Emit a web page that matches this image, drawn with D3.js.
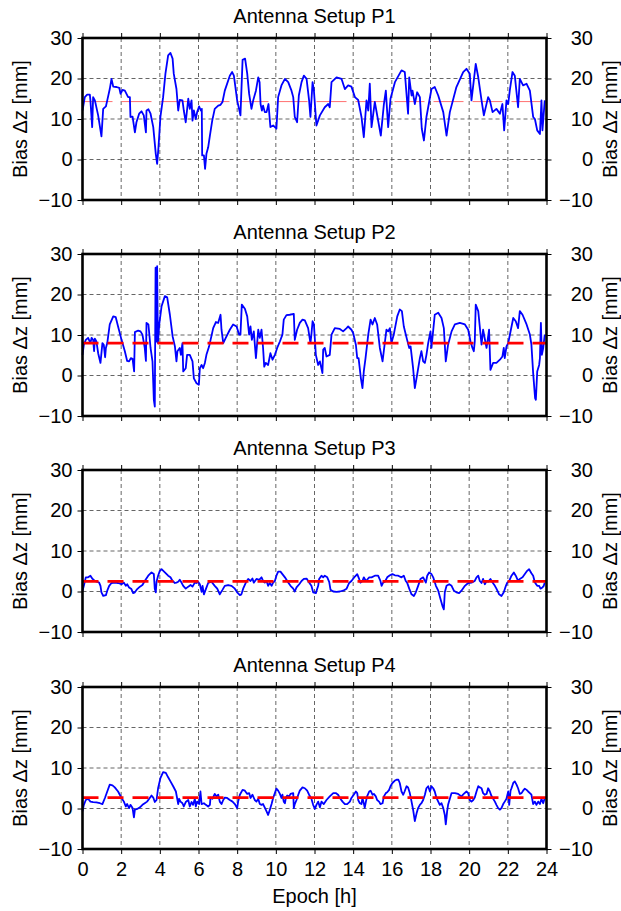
<!DOCTYPE html>
<html><head><meta charset="utf-8">
<script src="https://cdn.jsdelivr.net/npm/d3@7"></script>
<style>
body{margin:0;background:#fff}
svg{display:block}
text{font-family:"Liberation Sans",Arial,Helvetica,sans-serif;fill:#000}
</style>
</head><body>
<svg id="c" width="621" height="911"></svg>
<script>
const panelTitles = ["Antenna Setup P1","Antenna Setup P2","Antenna Setup P3","Antenna Setup P4"];
const xTicks = [0,2,4,6,8,10,12,14,16,18,20,22,24];
const yTicks = [-10,0,10,20,30];
const gridY = [0,10,20];
const meanBias = [14.3, 8.0, 2.5, 2.7];
const yLabel = "Bias Δz [mm]";
const xLabel = "Epoch [h]";

// [epoch h, bias mm]
const p1 = [[0,12.1],[0.12,15.4],[0.24,16.0],[0.38,16.0],[0.41,14.6],[0.50,8.0],[0.55,15.4],[0.64,14.6],[0.81,10.9],[0.98,5.7],[1.07,12.5],[1.21,13.1],[1.28,14.6],[1.41,17.4],[1.50,19.9],[1.59,18.0],[1.76,17.9],[1.90,17.7],[1.97,16.2],[2.07,17.2],[2.19,17.0],[2.36,15.4],[2.45,15.4],[2.48,10.5],[2.59,10.6],[2.71,6.7],[2.79,9.2],[2.93,11.3],[3.05,11.9],[3.17,10.9],[3.28,6.7],[3.31,12.1],[3.41,12.4],[3.52,11.3],[3.66,8.0],[3.79,1.4],[3.86,-1.1],[3.93,3.0],[4.03,10.5],[4.17,15.4],[4.29,21.2],[4.43,25.7],[4.55,26.3],[4.66,24.9],[4.72,21.2],[4.86,17.4],[4.95,12.1],[5.03,14.7],[5.17,14.6],[5.24,12.1],[5.34,9.2],[5.47,15.0],[5.55,12.5],[5.64,14.6],[5.69,9.6],[5.76,12.1],[5.86,10.0],[5.93,11.7],[6.03,13.1],[6.12,12.1],[6.17,12.5],[6.19,1.0],[6.28,1.0],[6.34,-2.3],[6.41,1.4],[6.50,3.0],[6.59,5.9],[6.71,9.6],[6.84,12.5],[7.02,13.3],[7.14,13.5],[7.24,14.2],[7.36,17.0],[7.62,20.7],[7.74,21.6],[7.83,20.7],[8.00,14.6],[8.17,10.9],[8.28,24.6],[8.41,24.9],[8.52,21.2],[8.62,16.2],[8.74,12.5],[8.83,14.6],[8.97,17.0],[9.09,20.3],[9.16,19.1],[9.21,13.7],[9.28,12.1],[9.34,13.3],[9.43,11.7],[9.52,11.7],[9.62,13.7],[9.72,8.0],[9.86,8.4],[10.03,7.6],[10.12,15.4],[10.29,18.3],[10.47,19.9],[10.64,19.1],[10.81,17.0],[10.90,15.4],[10.98,10.5],[11.10,9.2],[11.19,15.8],[11.33,19.1],[11.45,20.7],[11.59,19.9],[11.72,14.6],[11.79,10.5],[11.90,19.1],[11.97,17.0],[12.10,8.4],[12.28,10.9],[12.53,12.9],[12.71,13.7],[12.79,12.9],[12.88,19.1],[13.14,20.3],[13.40,19.9],[13.57,17.4],[13.74,18.3],[13.91,18.0],[14.09,15.4],[14.26,14.7],[14.43,10.5],[14.55,5.5],[14.69,14.6],[14.78,12.1],[14.86,18.7],[14.95,8.0],[15.12,14.2],[15.43,5.9],[15.59,13.7],[15.69,17.0],[15.81,8.0],[15.93,15.0],[16.16,19.1],[16.50,22.0],[16.67,21.6],[16.84,11.3],[16.90,20.3],[17.02,15.8],[17.07,17.0],[17.19,13.7],[17.31,16.6],[17.45,15.4],[17.55,7.6],[17.66,4.7],[17.79,10.5],[18.05,17.4],[18.22,17.9],[18.40,15.8],[18.66,11.7],[18.83,5.9],[19.00,11.7],[19.34,17.9],[19.69,21.6],[19.86,22.4],[20.03,21.2],[20.12,14.6],[20.34,23.6],[20.47,20.3],[20.64,14.6],[20.76,10.9],[20.98,15.4],[21.07,14.6],[21.21,11.7],[21.41,12.5],[21.59,11.3],[21.72,13.7],[21.81,7.2],[21.93,14.6],[22.02,13.7],[22.10,17.0],[22.24,21.6],[22.36,20.7],[22.53,12.9],[22.62,19.9],[22.79,18.3],[22.97,18.7],[23.14,17.0],[23.31,10.5],[23.40,10.0],[23.52,7.2],[23.66,6.3],[23.74,14.6],[23.79,7.2],[23.91,14.6]];

const p2 = [[0,5.1],[0.07,7.6],[0.17,8.8],[0.29,9.3],[0.41,8.0],[0.47,9.3],[0.55,8.8],[0.60,6.0],[0.64,9.1],[0.72,8.4],[0.81,5.5],[0.93,3.1],[1.03,8.0],[1.10,7.6],[1.17,4.5],[1.21,6.8],[1.28,8.0],[1.41,12.6],[1.59,14.6],[1.72,14.4],[1.84,12.1],[2.02,8.8],[2.19,6.0],[2.31,3.6],[2.41,3.5],[2.50,4.3],[2.59,4.1],[2.67,1.0],[2.71,10.7],[2.88,11.1],[3.00,10.9],[3.10,10.1],[3.22,6.8],[3.28,3.6],[3.31,13.0],[3.41,12.6],[3.52,6.8],[3.62,3.5],[3.69,-6.0],[3.74,-7.7],[3.78,26.6],[3.83,8.4],[3.86,27.0],[3.90,8.0],[3.97,12.6],[4.09,17.1],[4.26,19.6],[4.38,19.3],[4.52,15.0],[4.66,9.7],[4.78,7.2],[4.86,3.5],[4.91,6.0],[5.03,6.8],[5.09,5.1],[5.17,8.0],[5.21,1.0],[5.34,1.8],[5.41,5.1],[5.55,5.1],[5.69,3.5],[5.76,-0.7],[5.90,-1.9],[6.02,-2.3],[6.07,1.8],[6.16,2.6],[6.24,1.8],[6.33,3.1],[6.41,5.1],[6.55,7.2],[6.76,11.7],[6.90,13.2],[7.02,13.0],[7.14,15.0],[7.19,11.3],[7.28,8.0],[7.41,9.3],[7.62,11.3],[7.79,12.6],[7.97,12.1],[8.10,10.1],[8.17,10.1],[8.24,17.5],[8.40,16.5],[8.52,14.6],[8.62,10.1],[8.69,12.1],[8.76,8.8],[8.86,10.9],[8.97,4.3],[9.00,6.0],[9.09,11.3],[9.17,9.3],[9.26,11.3],[9.34,6.8],[9.40,2.2],[9.48,3.1],[9.60,2.6],[9.72,5.5],[9.83,3.9],[9.95,5.1],[10.07,6.8],[10.21,8.4],[10.34,10.1],[10.41,13.8],[10.55,14.9],[10.72,15.0],[10.93,15.2],[10.98,8.8],[11.10,11.3],[11.24,13.0],[11.38,13.8],[11.50,13.6],[11.67,11.7],[11.79,8.0],[11.84,10.1],[11.90,13.4],[11.97,12.6],[12.07,5.1],[12.19,2.6],[12.28,3.5],[12.41,0.6],[12.45,6.4],[12.53,6.8],[12.62,4.7],[12.79,5.1],[12.88,10.1],[13.05,11.7],[13.31,11.5],[13.48,10.9],[13.66,11.7],[13.74,12.1],[13.91,11.3],[14.00,10.5],[14.14,7.6],[14.21,4.3],[14.28,4.3],[14.40,-0.7],[14.48,-3.1],[14.55,1.0],[14.64,4.3],[14.78,10.1],[14.90,13.8],[15.00,12.6],[15.12,14.2],[15.24,12.6],[15.38,6.8],[15.52,3.5],[15.72,11.3],[15.81,10.9],[15.90,11.7],[15.98,8.0],[16.10,10.1],[16.28,14.6],[16.41,16.3],[16.52,15.9],[16.62,12.1],[16.79,8.8],[16.90,6.8],[16.97,7.2],[17.10,1.8],[17.19,-3.1],[17.31,0.2],[17.45,4.3],[17.53,6.0],[17.62,3.5],[17.71,3.1],[17.79,5.1],[17.88,8.0],[18.00,10.9],[18.05,6.8],[18.22,15.0],[18.40,15.5],[18.57,14.2],[18.69,11.7],[18.79,3.5],[18.91,7.6],[19.09,10.9],[19.26,12.6],[19.52,13.0],[19.78,12.6],[19.95,11.3],[20.07,8.4],[20.17,6.8],[20.24,6.0],[20.29,8.4],[20.34,17.5],[20.47,15.9],[20.64,7.6],[20.72,11.3],[20.90,6.8],[21.03,11.3],[21.10,1.4],[21.24,3.1],[21.41,3.1],[21.59,3.9],[21.72,4.7],[21.79,6.8],[21.84,4.3],[21.93,7.2],[22.02,8.0],[22.28,14.2],[22.41,13.4],[22.53,11.7],[22.62,15.9],[22.76,15.0],[22.97,12.6],[23.14,10.1],[23.22,7.6],[23.31,0.6],[23.41,-5.6],[23.45,-6.0],[23.52,1.0],[23.62,2.6],[23.66,4.3],[23.71,13.0],[23.76,5.1],[23.83,6.8],[23.91,10.1]];

const p3 = [[0,0.2],[0.07,1.4],[0.17,3.5],[0.29,3.5],[0.41,3.9],[0.52,3.1],[0.64,2.6],[0.76,2.4],[0.86,2.2],[0.93,1.4],[0.98,-0.2],[1.07,-1.1],[1.21,-0.9],[1.28,0.2],[1.38,1.4],[1.50,2.1],[1.67,2.2],[1.84,2.1],[2.02,1.8],[2.14,2.2],[2.24,1.4],[2.31,1.8],[2.41,1.0],[2.53,0.6],[2.62,-0.4],[2.71,-0.2],[2.83,0.6],[2.97,1.2],[3.10,1.6],[3.22,2.6],[3.40,3.9],[3.57,4.7],[3.69,4.3],[3.74,0.6],[3.79,-0.2],[3.83,2.4],[3.91,3.9],[4.00,5.1],[4.09,5.5],[4.26,4.7],[4.43,3.9],[4.55,3.5],[4.66,2.6],[4.78,2.1],[4.86,2.2],[4.95,2.4],[5.03,2.9],[5.12,2.2],[5.21,1.4],[5.34,0.7],[5.47,1.2],[5.59,1.6],[5.69,1.2],[5.81,2.2],[5.90,2.1],[5.98,2.4],[6.07,1.8],[6.16,-0.1],[6.21,1.4],[6.28,-0.7],[6.38,0.6],[6.50,2.1],[6.67,2.4],[6.84,1.4],[6.97,0.7],[7.10,-0.7],[7.24,0.4],[7.36,1.4],[7.53,1.6],[7.71,1.4],[7.88,0.7],[8.00,-0.2],[8.14,-0.9],[8.22,-0.7],[8.31,0.7],[8.45,2.2],[8.57,3.1],[8.69,2.6],[8.79,3.2],[8.86,2.2],[9.00,3.1],[9.14,2.9],[9.26,3.5],[9.34,2.6],[9.43,2.2],[9.52,2.6],[9.60,1.4],[9.69,2.1],[9.78,1.4],[9.86,2.2],[9.95,2.6],[10.03,3.9],[10.12,4.9],[10.24,4.9],[10.34,4.3],[10.47,3.5],[10.64,2.2],[10.76,1.4],[10.90,0.7],[10.98,0.0],[11.07,1.0],[11.21,1.8],[11.33,2.6],[11.45,3.1],[11.59,3.2],[11.72,2.2],[11.84,1.4],[11.93,-0.2],[12.07,-0.4],[12.19,1.4],[12.24,3.1],[12.36,3.9],[12.45,3.5],[12.53,3.9],[12.66,3.5],[12.76,2.4],[12.83,0.4],[12.97,0.0],[13.14,-0.1],[13.31,0.0],[13.48,0.2],[13.66,0.7],[13.79,2.1],[13.91,2.6],[14.09,3.7],[14.21,4.3],[14.31,3.1],[14.38,2.2],[14.48,2.6],[14.55,3.5],[14.66,2.6],[14.72,2.9],[14.83,3.5],[14.95,3.5],[15.12,3.9],[15.29,3.9],[15.41,2.6],[15.47,1.4],[15.55,2.2],[15.64,2.4],[15.76,3.5],[15.90,4.0],[16.03,4.3],[16.16,4.0],[16.33,3.9],[16.50,3.5],[16.62,3.9],[16.72,2.6],[16.79,2.2],[16.90,0.7],[17.02,-0.7],[17.14,-1.1],[17.24,-0.2],[17.36,1.4],[17.48,3.1],[17.62,3.5],[17.76,2.2],[17.83,3.9],[17.93,4.7],[18.05,4.3],[18.14,3.5],[18.28,1.4],[18.40,0.2],[18.52,-1.9],[18.62,-3.6],[18.69,-4.4],[18.74,-0.2],[18.83,1.4],[18.97,1.8],[19.09,1.4],[19.21,0.2],[19.34,-0.2],[19.48,-0.4],[19.60,0.2],[19.78,1.4],[19.95,2.1],[20.12,2.2],[20.29,2.6],[20.38,3.5],[20.47,3.9],[20.55,2.6],[20.64,2.1],[20.72,3.1],[20.81,1.8],[20.90,2.6],[20.98,2.4],[21.10,3.1],[21.21,2.2],[21.33,1.4],[21.41,0.7],[21.55,-0.7],[21.67,-1.1],[21.79,-0.2],[21.90,1.4],[21.97,2.2],[22.07,2.6],[22.19,3.9],[22.31,4.7],[22.41,3.9],[22.53,2.6],[22.62,3.1],[22.76,3.5],[22.88,4.3],[23.00,5.1],[23.10,5.5],[23.22,4.5],[23.31,3.9],[23.40,2.2],[23.52,1.4],[23.62,1.4],[23.69,0.7],[23.79,1.0],[23.86,1.4],[23.91,2.2]];

const p4 = [[0,-0.7],[0.07,0.9],[0.17,2.1],[0.29,2.4],[0.41,1.7],[0.55,1.6],[0.72,1.5],[0.90,1.3],[1.03,1.1],[1.16,2.6],[1.28,4.2],[1.41,5.9],[1.55,5.7],[1.67,5.2],[1.84,4.2],[2.02,2.6],[2.14,1.7],[2.24,0.5],[2.31,1.1],[2.41,0.1],[2.48,0.9],[2.59,0.1],[2.66,-2.2],[2.71,-0.3],[2.83,-0.1],[2.97,0.3],[3.10,0.9],[3.22,1.3],[3.34,1.7],[3.45,2.4],[3.57,3.2],[3.66,2.7],[3.74,1.6],[3.83,2.1],[3.91,5.0],[4.03,7.5],[4.17,9.0],[4.31,8.8],[4.43,7.7],[4.55,6.7],[4.69,5.5],[4.83,4.2],[4.90,2.4],[4.95,1.1],[5.00,2.4],[5.07,1.7],[5.17,1.3],[5.24,0.5],[5.34,1.6],[5.47,2.1],[5.55,0.5],[5.64,1.6],[5.72,0.9],[5.81,2.4],[5.86,0.5],[5.93,1.7],[6.03,1.1],[6.10,4.2],[6.16,1.1],[6.28,1.3],[6.38,0.9],[6.50,0.5],[6.59,0.9],[6.62,2.7],[6.72,2.4],[6.84,3.6],[6.93,3.0],[7.02,3.4],[7.10,1.7],[7.19,1.1],[7.28,2.1],[7.36,2.7],[7.48,2.6],[7.62,2.1],[7.76,1.7],[7.88,1.1],[8.00,0.1],[8.05,1.7],[8.14,3.4],[8.28,4.6],[8.40,4.4],[8.52,3.6],[8.62,3.8],[8.69,2.6],[8.79,3.4],[8.91,2.1],[9.00,1.7],[9.09,2.4],[9.17,1.1],[9.26,0.9],[9.34,1.1],[9.43,0.2],[9.52,-0.7],[9.60,-1.6],[9.69,-0.3],[9.78,1.1],[9.86,2.6],[9.95,3.8],[10.03,4.9],[10.12,4.4],[10.21,3.6],[10.29,2.6],[10.34,3.4],[10.41,1.7],[10.47,1.3],[10.52,2.7],[10.59,3.2],[10.69,3.0],[10.76,3.6],[10.90,3.8],[10.93,0.1],[10.98,1.1],[11.07,2.1],[11.16,3.4],[11.24,4.4],[11.38,5.2],[11.50,5.0],[11.62,4.4],[11.72,3.4],[11.84,2.4],[11.93,0.9],[12.02,-0.1],[12.10,0.9],[12.19,1.7],[12.28,0.3],[12.36,1.7],[12.48,1.1],[12.62,2.1],[12.79,3.0],[12.97,3.8],[13.10,3.8],[13.22,3.4],[13.31,2.6],[13.45,1.7],[13.57,1.1],[13.69,1.1],[13.83,1.7],[13.91,2.6],[14.03,3.4],[14.14,4.2],[14.21,3.8],[14.26,2.1],[14.34,1.3],[14.43,1.1],[14.48,2.6],[14.55,1.3],[14.60,0.2],[14.66,1.7],[14.72,3.0],[14.83,4.2],[14.90,4.4],[15.00,3.4],[15.07,3.6],[15.17,3.0],[15.24,2.1],[15.34,1.7],[15.41,1.1],[15.52,1.3],[15.59,3.0],[15.69,3.8],[15.76,4.0],[15.86,4.6],[15.93,5.5],[16.03,6.3],[16.16,6.9],[16.24,7.1],[16.34,7.1],[16.41,6.3],[16.50,4.2],[16.59,3.4],[16.66,4.2],[16.76,5.5],[16.84,5.2],[16.93,3.8],[17.02,1.7],[17.10,-0.3],[17.19,-3.1],[17.28,-1.2],[17.36,0.1],[17.45,0.9],[17.53,1.3],[17.62,2.1],[17.71,3.4],[17.79,5.0],[17.88,5.5],[17.97,4.2],[18.05,5.5],[18.14,5.0],[18.22,4.2],[18.31,2.6],[18.40,1.7],[18.48,0.9],[18.57,1.3],[18.66,0.1],[18.74,-1.6],[18.79,-3.9],[18.86,-0.7],[18.91,0.9],[19.00,2.4],[19.09,3.8],[19.26,3.8],[19.43,3.6],[19.60,3.0],[19.72,3.6],[19.86,4.2],[19.95,3.8],[20.03,2.1],[20.12,1.7],[20.21,2.1],[20.29,2.7],[20.38,4.2],[20.47,5.5],[20.55,5.2],[20.64,5.0],[20.72,3.8],[20.81,3.4],[20.90,3.6],[20.98,5.0],[21.07,4.2],[21.16,3.0],[21.24,2.4],[21.33,1.7],[21.41,0.9],[21.50,0.1],[21.59,-0.3],[21.67,0.1],[21.76,1.1],[21.84,1.7],[21.93,2.4],[22.02,4.2],[22.07,0.9],[22.14,4.4],[22.19,5.0],[22.28,6.3],[22.36,6.7],[22.45,5.9],[22.53,5.0],[22.62,3.6],[22.71,3.8],[22.79,4.4],[22.88,4.9],[22.97,4.6],[23.05,4.2],[23.14,3.8],[23.22,3.4],[23.31,1.1],[23.40,1.7],[23.48,0.9],[23.57,1.7],[23.66,1.1],[23.74,2.4],[23.83,1.3],[23.91,2.6]];

const seriesList = [p1, p2, p3, p4];

const svg = d3.select("#c");
const x = d3.scaleLinear().domain([0, 24]).range([82.5, 546.5]);
const panelTop = [38, 254, 470, 687];
const panelH = 162;
const FS = 20;

seriesList.forEach((data, i) => {
  const top = panelTop[i];
  const y = d3.scaleLinear().domain([-10, 30]).range([top + panelH, top]);
  const g = svg.append("g");

  // grid
  g.append("g").selectAll("line").data(xTicks.slice(1, -1)).join("line")
    .attr("x1", d => x(d)).attr("x2", d => x(d))
    .attr("y1", top).attr("y2", top + panelH)
    .attr("stroke", "#555").attr("stroke-width", 0.9).attr("stroke-dasharray", "4,3");
  g.append("g").selectAll("line").data(gridY).join("line")
    .attr("x1", x(0)).attr("x2", x(24))
    .attr("y1", d => y(d)).attr("y2", d => y(d))
    .attr("stroke", "#555").attr("stroke-width", 0.9).attr("stroke-dasharray", "4,3");

  // thin faint mean line for P1 (below the series)
  if (i === 0) {
    g.append("line")
      .attr("x1", x(0)).attr("x2", x(24))
      .attr("y1", y(meanBias[i])).attr("y2", y(meanBias[i]))
      .attr("stroke", "#ff7070").attr("stroke-width", 1).attr("stroke-dasharray", "30,9");
  }

  // series
  const line = d3.line().x(d => x(d[0])).y(d => y(d[1]));
  g.append("path").datum(data).attr("d", line)
    .attr("fill", "none").attr("stroke", "#0000ff").attr("stroke-width", 1.8)
    .attr("stroke-linejoin", "round");

  // bold red dashed mean line for P2-P4
  if (i > 0) {
    g.append("line")
      .attr("x1", x(0)).attr("x2", x(24))
      .attr("y1", y(meanBias[i])).attr("y2", y(meanBias[i]))
      .attr("stroke", "#ff0000").attr("stroke-width", 2.7).attr("stroke-dasharray", "16,9");
  }

  // axes
  const styleAxis = sel => {
    sel.select(".domain").remove();
    sel.selectAll(".tick line").attr("stroke", "#000").attr("stroke-width", 1);
    sel.selectAll("text").attr("font-size", FS).attr("font-family", '"Liberation Sans",Arial,sans-serif').attr("fill", "#000");
  };
  g.append("g").attr("transform", `translate(${x(0)},0)`)
    .call(d3.axisLeft(y).tickValues(yTicks).tickSize(5).tickPadding(5)).call(styleAxis);
  const ra = g.append("g").attr("transform", `translate(${x(24)},0)`)
    .call(d3.axisRight(y).tickValues(yTicks).tickSize(5).tickPadding(5)).call(styleAxis);
  ra.selectAll("text").attr("text-anchor", "end").attr("x", 46.5);
  g.append("g").attr("transform", `translate(0,${top})`)
    .call(d3.axisTop(x).tickValues(xTicks).tickSize(5).tickFormat("")).call(styleAxis);
  g.append("g").attr("transform", `translate(0,${top + panelH})`)
    .call(d3.axisBottom(x).tickValues(xTicks).tickSize(5).tickPadding(8)
      .tickFormat(i === 3 ? d3.format("d") : "")).call(styleAxis);

  // frame
  g.append("rect").attr("x", x(0)).attr("y", top)
    .attr("width", x(24) - x(0)).attr("height", panelH)
    .attr("fill", "none").attr("stroke", "#000").attr("stroke-width", 2.6);

  // titles
  g.append("text").attr("x", (x(0) + x(24)) / 2).attr("y", top - 15.5)
    .attr("text-anchor", "middle").attr("font-size", FS).text(panelTitles[i]);
  const cy = top + panelH / 2;
  g.append("text").attr("transform", `translate(27,${cy}) rotate(-90)`)
    .attr("text-anchor", "middle").attr("font-size", FS).text(yLabel);
  g.append("text").attr("transform", `translate(617,${cy}) rotate(-90)`)
    .attr("text-anchor", "middle").attr("font-size", FS).text(yLabel);
});

svg.append("text").attr("x", (x(0) + x(24)) / 2).attr("y", 903)
  .attr("text-anchor", "middle").attr("font-size", FS).text(xLabel);
</script>
</body></html>
